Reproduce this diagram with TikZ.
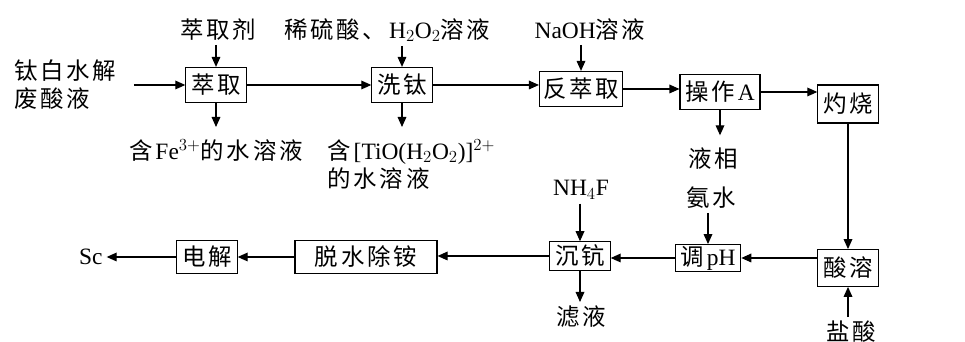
\documentclass[tikz,border=0pt]{standalone}
\usepackage{fontspec}
\setmainfont{Liberation Serif}
\newfontfamily\cjk[LetterSpace=12]{Noto Sans CJK SC}
\usetikzlibrary{arrows.meta,positioning,calc}

\begin{document}
\begin{tikzpicture}[
    font=\cjk\fontsize{20}{24}\selectfont,
    opbox/.style={draw=black,line width=1pt,inner xsep=4.5pt,
      inner ysep=0pt,minimum height=1.05cm},
    flow/.style={-{Triangle[length=3mm,width=2.6mm]},line width=1pt,
      draw=black},
    outflow/.style={flow,shorten >=2.5mm}
  ]
    \useasboundingbox (0,0) rectangle (28.95,10.26);

    \node[anchor=west,align=left] (src) at (0.3,7.71) {钛白水解\\废酸液};
    \node[opbox] (cq) at (6.48,7.71) {萃取};
    \node (cqj) at (6.54,9.36) {萃取剂};
    \node[anchor=north] (fe) at (6.48,6.2) {含\textrm{Fe}$^{3+}$的水溶液};
    \node[opbox] (xt) at (12.06,7.71) {洗钛};
    \node (xls) at (11.62,9.36) {稀硫酸、\textrm{H}$_2$\textrm{O}$_2$溶液};
    \node[anchor=north west,align=left] (tio) at (9.7,6.2)
      {含\textrm{[TiO(H}$_2$\textrm{O}$_2$\textrm{)]}$^{2+}$\\的水溶液};
    \node[opbox,inner xsep=3pt] (fcq) at (17.43,7.59) {反萃取};
    \node (naoh) at (17.7,9.36) {\textrm{NaOH}溶液};
    \node[opbox] (czA) at (21.6,7.5) {操作\textrm{A}};
    \node[anchor=north] (yx) at (21.39,5.95) {液相};
    \node[opbox,minimum height=1.14cm] (zs) at (25.44,7.14) {灼烧};

    \node[opbox,minimum height=1.1cm] (sr) at (25.44,2.22) {酸溶};
    \node (ys) at (25.53,0.3) {盐酸};
    \node[opbox,minimum height=0.8cm] (tph) at (21.24,2.52) {调\textrm{pH}};
    \node (as) at (21.33,4.32) {氨水};
    \node[opbox,minimum height=0.85cm] (cs) at (17.4,2.58) {沉钪};
    \node (nh4f) at (17.43,4.56) {\textrm{NH}$_4$\textrm{F}};
    \node (ly) at (17.43,0.75) {滤液};
    \node[opbox,minimum height=1cm,minimum width=4.26cm] (tsc) at (10.98,2.55)
      {脱水除铵};
    \node[opbox,minimum height=1cm] (dj) at (6.21,2.55) {电解};
    \node[anchor=east] (sc) at (3.2,2.55) {\textrm{Sc}};

    \draw[flow,shorten <=4mm] (src) -- (cq);
    \draw[flow] (cq) -- (xt);
    \draw[flow] (xt.east) -- (xt.east -| fcq.west);
    \draw[flow] (fcq.east) -- (fcq.east -| czA.west);
    \draw[flow] (czA.east) -- (czA.east -| zs.west);
    \draw[flow] (zs) -- (sr);
    \draw[flow] (sr.west |- tph) -- (tph.east);
    \draw[flow] (tph.west) -- (tph.west -| cs.east);
    \draw[flow] (cs.west) -- (cs.west -| tsc.east);
    \draw[flow] (tsc) -- (dj);
    \draw[flow] (dj) -- (sc);

    \draw[flow] (cq |- cqj.south) -- (cq.north);
    \draw[flow] (xt |- xls.south) -- (xt.north);
    \draw[flow] (fcq |- naoh.south) -- (fcq.north);
    \draw[flow] (tph |- as.south) -- (tph.north);
    \draw[flow] (cs |- nh4f.south) -- (cs.north);
    \draw[flow] (sr |- ys.north) -- (sr.south);

    \draw[outflow] (cq.south) -- (cq |- fe.north);
    \draw[outflow] (xt.south) -- (xt |- tio.north);
    \draw[outflow] (czA.south) -- (czA |- yx.north);
    \draw[flow] (cs.south) -- (cs |- ly.north);
\end{tikzpicture}
\end{document}
